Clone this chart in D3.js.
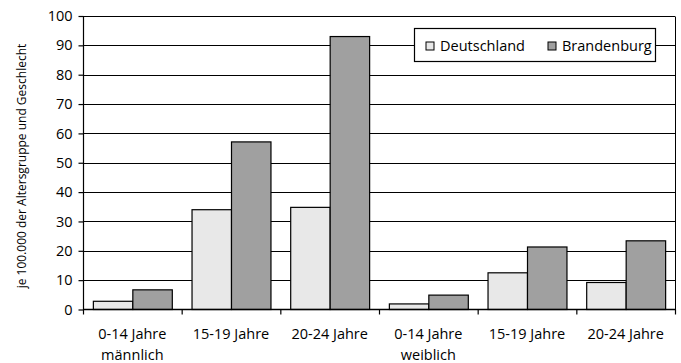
<!DOCTYPE html>
<html>
<head>
<meta charset="utf-8">
<script src="https://cdn.jsdelivr.net/npm/d3@7"></script>
<style>
  html, body { margin: 0; padding: 0; background: #fff; }
  svg { display: block; }
  text { font-family: "Open Sans", "DejaVu Sans Condensed", sans-serif; fill: #000; }
</style>
</head>
<body>
<svg id="chart" width="681" height="363"></svg>
<script>
// Age groups (first label line) and sex (second label line)
const categories = ["0-14 Jahre", "15-19 Jahre", "20-24 Jahre", "0-14 Jahre", "15-19 Jahre", "20-24 Jahre"];
const subLabels = ["männlich", "", "", "weiblich", "", ""];
const seriesNames = ["Deutschland", "Brandenburg"];
const deutschland = [2.8, 34.0, 34.8, 1.9, 12.5, 9.2];
const brandenburg = [6.7, 57.1, 93.0, 4.9, 21.3, 23.4];
const yTicks = [0, 10, 20, 30, 40, 50, 60, 70, 80, 90, 100];
const yTitle = "je 100.000 der Altersgruppe und Geschlecht";

const colors = { "Deutschland": "#e8e8e8", "Brandenburg": "#a0a0a0" };
const values = { "Deutschland": deutschland, "Brandenburg": brandenburg };

const svg = d3.select("#chart");
const plotLeft = 83, plotRight = 675, plotTop = 16, plotBottom = 309.5;

const x = d3.scaleBand().domain(d3.range(categories.length)).range([plotLeft, plotRight]).paddingInner(0).paddingOuter(0);
const inner = d3.scaleBand().domain(seriesNames).range([0, x.bandwidth()]).paddingOuter(0.25).paddingInner(0);
const y = d3.scaleLinear().domain([0, 100]).range([plotBottom, plotTop]);

// Horizontal gridlines
svg.append("g").selectAll("line").data(yTicks.filter(d => d > 0)).join("line")
  .attr("x1", plotLeft).attr("x2", plotRight)
  .attr("y1", d => Math.round(y(d)) + 0.5).attr("y2", d => Math.round(y(d)) + 0.5)
  .attr("stroke", "#000").attr("stroke-width", 1);

// Right frame
svg.append("line").attr("x1", plotRight + 0.5).attr("x2", plotRight + 0.5)
  .attr("y1", Math.round(y(100)) + 0.5).attr("y2", plotBottom)
  .attr("stroke", "#000");

// Bars
const groups = svg.append("g").selectAll("g").data(categories).join("g")
  .attr("transform", (d, i) => `translate(${x(i)},0)`);
groups.selectAll("rect").data((d, i) => seriesNames.map(s => ({ s, v: values[s][i] }))).join("rect")
  .attr("x", d => inner(d.s) + 0.5)
  .attr("width", inner.bandwidth())
  .attr("y", d => y(d.v))
  .attr("height", d => y(0) - y(d.v))
  .attr("fill", d => colors[d.s])
  .attr("stroke", "#000").attr("stroke-width", 1.2);

// Y axis
const yAxis = d3.axisLeft(y).tickValues(yTicks).tickSize(5).tickPadding(6).tickFormat(d3.format("d"));
const gy = svg.append("g").attr("transform", `translate(${plotLeft + 0.5},0)`).call(yAxis);
gy.attr("font-family", null).attr("font-size", null);
gy.select(".domain").attr("stroke", "#000").attr("stroke-width", 1.2).attr("d", `M0,${y(100)}V${plotBottom}`);
gy.selectAll(".tick line").attr("stroke-width", 1.2);
gy.selectAll(".tick text").style("font-size", "14.5px");

// X axis: tick marks on band boundaries
const xBounds = d3.range(categories.length + 1).map(i => plotLeft + i * x.bandwidth());
svg.append("line").attr("x1", plotLeft).attr("x2", plotRight + 1).attr("y1", plotBottom).attr("y2", plotBottom)
  .attr("stroke", "#000").attr("stroke-width", 1.5);
svg.append("g").selectAll("line").data(xBounds).join("line")
  .attr("x1", d => d + 0.5).attr("x2", d => d + 0.5)
  .attr("y1", plotBottom).attr("y2", plotBottom + 5)
  .attr("stroke", "#000").attr("stroke-width", 1.2);

// Category labels
const lab = svg.append("g").selectAll("text").data(categories).join("text")
  .attr("x", (d, i) => x(i) + x.bandwidth() / 2)
  .attr("y", 339)
  .attr("text-anchor", "middle")
  .style("font-size", "14.5px");
lab.append("tspan").text(d => d);
lab.append("tspan")
  .attr("x", (d, i) => x(i) + x.bandwidth() / 2)
  .attr("dy", 20.5)
  .text((d, i) => subLabels[i]);

// Y axis title
svg.append("text")
  .attr("transform", `translate(26,166) rotate(-90)`)
  .attr("text-anchor", "middle")
  .style("font-size", "12px")
  .text(yTitle);

// Legend
const lg = svg.append("g").attr("transform", "translate(414.5,28.5)");
lg.append("rect").attr("width", 241).attr("height", 33).attr("fill", "#fff").attr("stroke", "#000").attr("stroke-width", 1.2);
const legendX = [11.5, 133.5];
seriesNames.forEach((s, i) => {
  lg.append("rect").attr("x", legendX[i]).attr("y", 13.5).attr("width", 8).attr("height", 8)
    .attr("fill", colors[s]).attr("stroke", "#000");
  lg.append("text").attr("x", legendX[i] + 14).attr("y", 22).style("font-size", "14.5px").text(s);
});
</script>
</body>
</html>
